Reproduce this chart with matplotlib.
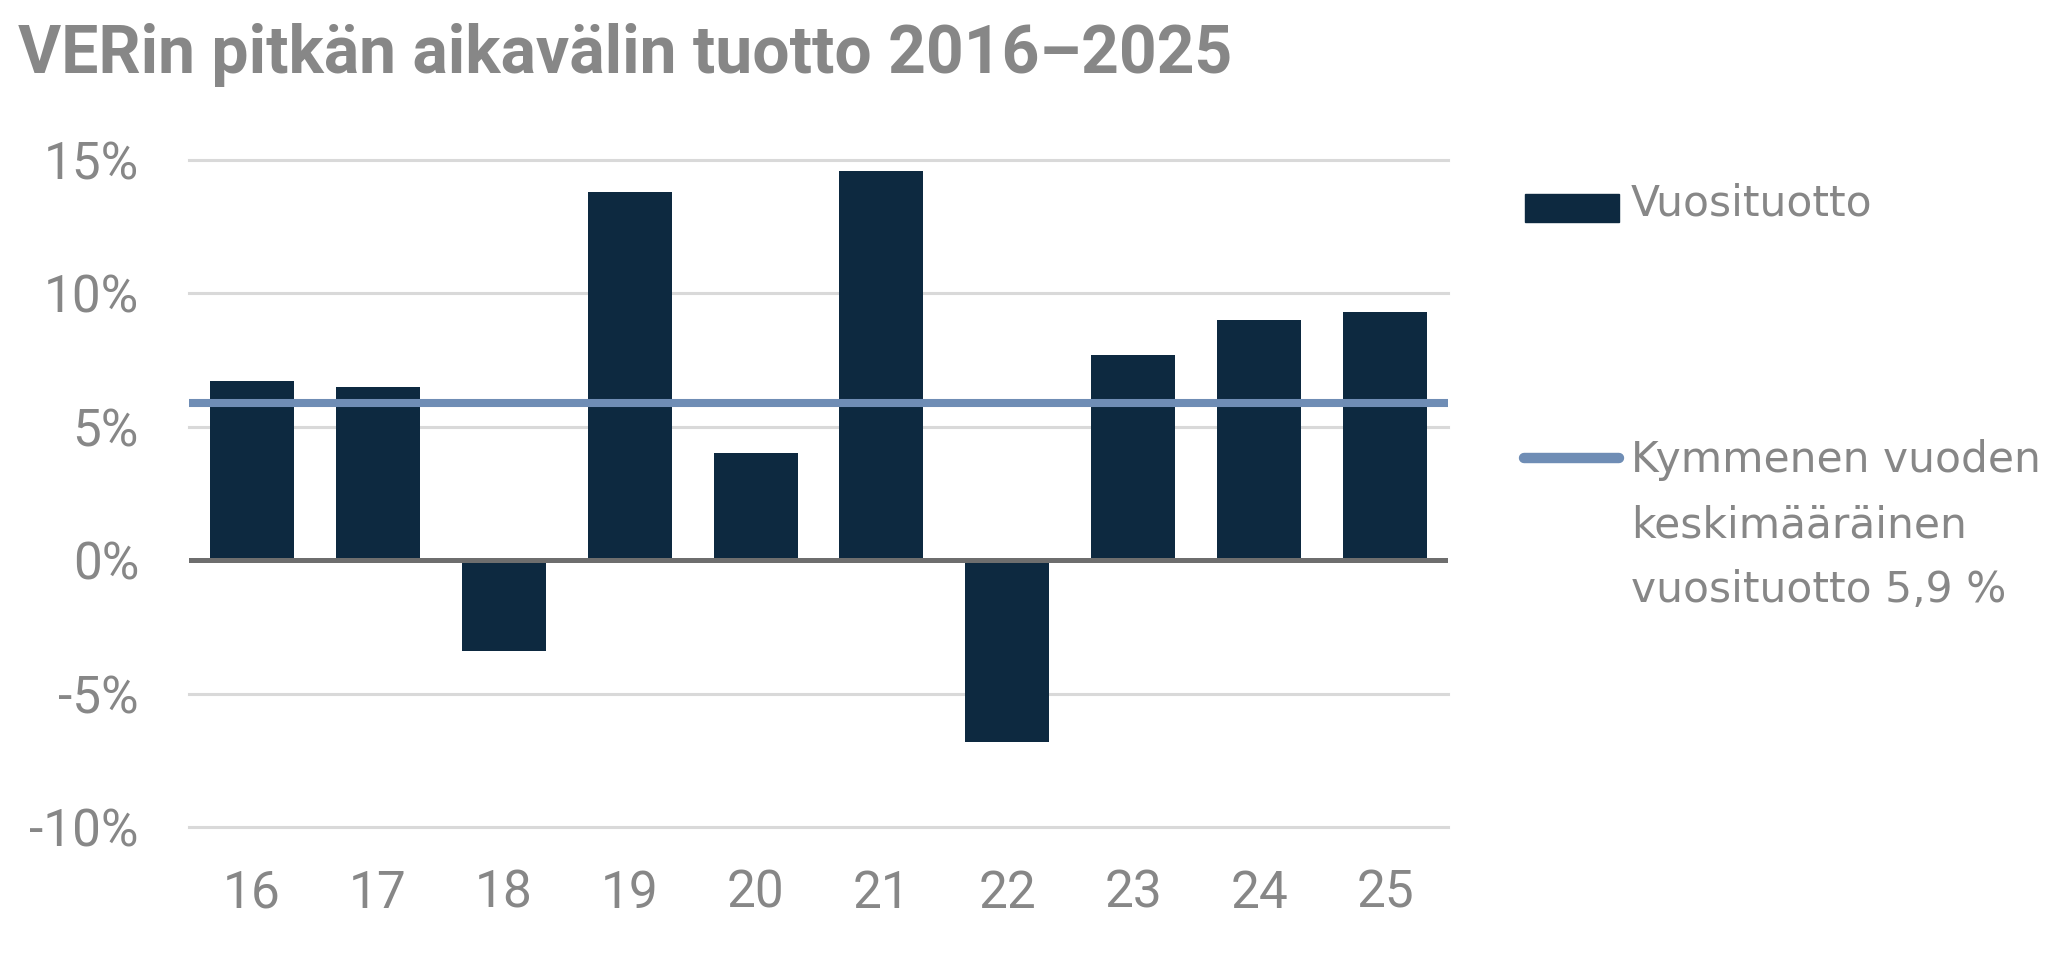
import matplotlib
matplotlib.use("Agg")
import matplotlib.pyplot as plt
from matplotlib.patches import Rectangle
from matplotlib.lines import Line2D
import numpy as np

# data
years = ["16", "17", "18", "19", "20", "21", "22", "23", "24", "25"]
annual_return = [6.7, 6.5, -3.4, 13.8, 4.0, 14.6, -6.8, 7.7, 9.0, 9.3]
ten_year_avg = 5.9
y_ticks = [-10, -5, 0, 5, 10, 15]

title = "VERin pitkän aikavälin tuotto 2016–2025"
label_bars = "Vuosituotto"
label_avg = "Kymmenen vuoden\nkeskimääräinen\nvuosituotto 5,9 %"

bar_color = "#0d2940"
avg_color = "#6f8db5"
grid_color = "#d9d9d9"
zero_color = "#6e6e6e"
text_color = "#878787"

W, H = 2049, 973
fig = plt.figure(figsize=(W / 100, H / 100), dpi=100)
ax = fig.add_axes([189 / W, 1 - 827 / H, (1448 - 189) / W, (827 - 160) / H])

x = np.arange(len(years))
ax.bar(x, annual_return, width=0.667, color=bar_color, zorder=2)
ax.axhline(0, color=zero_color, lw=3.6, zorder=3)
ax.axhline(ten_year_avg, color=avg_color, lw=5.8, zorder=4, solid_capstyle="butt")

ax.set_xlim(-0.5, len(years) - 0.5)
ax.set_ylim(-10, 15)
ax.set_yticks(y_ticks)
ax.set_yticklabels([f"{t}%" for t in y_ticks])
ax.set_xticks(x)
ax.set_xticklabels(years)
for t in y_ticks:
    if t != 0:
        ax.axhline(t, color=grid_color, lw=2.2, zorder=1, clip_on=False)

tick_font = ["Roboto", "DejaVu Sans"]
ax.tick_params(axis="both", length=0, labelcolor=text_color, labelsize=37)
ax.tick_params(axis="y", pad=36)
ax.tick_params(axis="x", pad=30)
for lab in ax.get_xticklabels() + ax.get_yticklabels():
    lab.set_family(tick_font)
for s in ax.spines.values():
    s.set_visible(False)

fig.text(18 / W, 1 - 73 / H, title, family=["Roboto", "DejaVu Sans"],
         fontweight="bold", fontsize=47.5, color=text_color, va="baseline", ha="left")

# legend drawn by hand to keep the line handle beside the first text line
fig.add_artist(Rectangle((1525 / W, 1 - 222 / H), 94 / W, 28 / H,
                         transform=fig.transFigure, color=bar_color))
fig.text(1631 / W, 1 - 216 / H, label_bars, fontsize=30.5, color=text_color,
         va="baseline", ha="left")
fig.add_artist(Line2D([1524 / W, 1619 / W], [1 - 458 / H, 1 - 458 / H],
                      transform=fig.transFigure, color=avg_color, lw=7.5,
                      solid_capstyle="round"))
for i, line in enumerate(label_avg.split("\n")):
    fig.text(1631 / W, 1 - (472 + 65 * i) / H, line, fontsize=30.5, color=text_color,
             va="baseline", ha="left")

fig.savefig("out.png", dpi=100)
